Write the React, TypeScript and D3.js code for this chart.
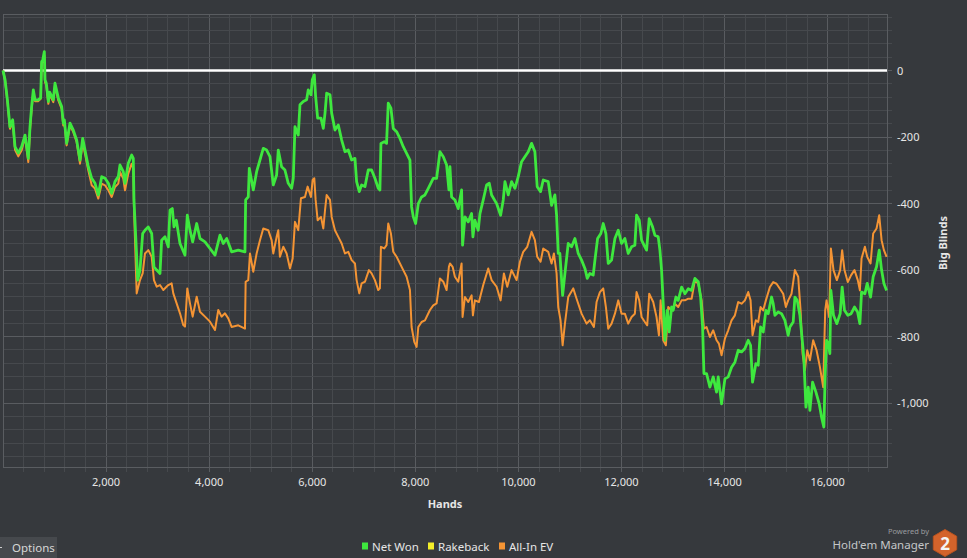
import { useEffect } from 'react';
import * as d3 from 'd3';

// Hold'em Manager style "won over hands" graph

const W = 967;
const H = 558;
const plot = { left: 3, right: 887, top: 14, bottom: 467 };

// [hand number, big blinds]
const netWon: [number, number][] = [
  [0, 0], [40, -28], [85, -88], [135, -169], [188, -148], [233, -229], [297, -248], [362, -229], [427, -194],
  [491, -264], [524, -169], [556, -108], [588, -58], [621, -88], [685, -88], [731, -82], [750, 27], [770, 30],
  [802, 57], [815, -28], [840, -38], [880, -93], [905, -65], [976, -88], [1009, -38], [1074, -83], [1138, -108],
  [1170, -158], [1190, -148], [1235, -219], [1300, -158], [1364, -179], [1429, -209], [1494, -269], [1546, -204],
  [1591, -239], [1655, -289], [1721, -324], [1785, -339], [1849, -374], [1915, -319], [1979, -324], [2044, -339],
  [2109, -369], [2173, -334], [2237, -319], [2270, -284], [2334, -304], [2367, -339], [2431, -279], [2497, -254],
  [2528, -264], [2541, -389], [2594, -560], [2613, -630], [2658, -600], [2710, -490], [2755, -480], [2817, -470],
  [2885, -490], [2929, -590], [2982, -600], [3046, -610], [3078, -510], [3143, -500], [3207, -530], [3240, -420],
  [3285, -415], [3318, -470], [3363, -450], [3434, -520], [3531, -555], [3576, -435], [3628, -480], [3680, -515],
  [3758, -460], [3822, -505], [3919, -515], [4016, -535], [4113, -555], [4210, -495], [4274, -520], [4340, -505],
  [4390, -525], [4436, -545], [4565, -540], [4695, -545], [4708, -389], [4759, -380], [4779, -294], [4856, -359],
  [4921, -304], [4986, -269], [5050, -234], [5115, -239], [5180, -259], [5244, -344], [5309, -314], [5341, -239],
  [5406, -289], [5470, -299], [5535, -339], [5600, -354], [5632, -324], [5665, -169], [5729, -194], [5762, -103],
  [5826, -93], [5891, -88], [5923, -58], [5975, -73], [6001, -28], [6040, -13], [6066, -78], [6105, -143],
  [6170, -143], [6215, -174], [6248, -128], [6280, -68], [6345, -73], [6377, -128], [6441, -179], [6506, -164],
  [6571, -209], [6635, -244], [6700, -239], [6765, -269], [6829, -264], [6861, -334], [6913, -364], [6958, -344],
  [7023, -349], [7087, -299], [7152, -299], [7216, -324], [7281, -354], [7313, -359], [7333, -219], [7397, -214],
  [7442, -219], [7475, -98], [7527, -113], [7572, -174], [7637, -184], [7702, -204], [7766, -229], [7831, -249],
  [7896, -269], [7928, -410], [7961, -440], [8006, -460], [8058, -400], [8122, -380], [8187, -374], [8252, -354],
  [8348, -324], [8413, -324], [8478, -244], [8543, -259], [8607, -284], [8652, -359], [8672, -289], [8704, -380],
  [8768, -389], [8833, -415], [8898, -359], [8917, -525], [8963, -440], [9027, -455], [9092, -430], [9118, -500],
  [9156, -450], [9221, -480], [9254, -430], [9318, -389], [9383, -344], [9435, -339], [9480, -374], [9577, -400],
  [9655, -435], [9706, -389], [9739, -334], [9803, -374], [9868, -334], [9933, -354], [9997, -319], [10062, -274],
  [10126, -259], [10191, -244], [10256, -219], [10320, -244], [10365, -349], [10430, -364], [10482, -329],
  [10579, -334], [10644, -405], [10708, -374], [10741, -435], [10773, -550], [10805, -550], [10858, -676],
  [10903, -610], [10967, -520], [11032, -530], [11097, -505], [11161, -550], [11226, -570], [11291, -595],
  [11336, -625], [11387, -610], [11452, -615], [11485, -570], [11537, -505], [11600, -490], [11646, -460],
  [11698, -490], [11743, -580], [11808, -570], [11873, -505], [11937, -480], [12002, -520], [12066, -505],
  [12131, -550], [12196, -530], [12260, -525], [12293, -435], [12345, -450], [12390, -510], [12454, -530],
  [12487, -540], [12538, -445], [12603, -470], [12648, -495], [12713, -500], [12746, -540], [12778, -600],
  [12810, -700], [12843, -811], [12870, -760], [12888, -721], [12926, -786], [12972, -711], [13004, -721],
  [13056, -681], [13101, -691], [13167, -651], [13231, -671], [13296, -656], [13361, -661], [13425, -625],
  [13490, -635], [13536, -681], [13574, -771], [13600, -911], [13651, -911], [13716, -952], [13780, -921],
  [13845, -967], [13877, -921], [13942, -1002], [14007, -927], [14071, -921], [14136, -892], [14201, -877],
  [14265, -841], [14330, -846], [14395, -836], [14459, -811], [14505, -826], [14543, -937], [14608, -881],
  [14653, -886], [14699, -771], [14750, -786], [14802, -721], [14847, -731], [14912, -681], [14944, -701],
  [14977, -736], [15041, -726], [15106, -731], [15171, -751], [15235, -796], [15268, -771], [15332, -756],
  [15365, -681], [15410, -691], [15462, -736], [15514, -821], [15539, -866], [15579, -1012], [15624, -952],
  [15656, -1022], [15708, -937], [15773, -967], [15837, -1002], [15882, -1042], [15927, -1072], [15953, -911],
  [15979, -811], [16011, -821], [16043, -851], [16063, -661], [16114, -736], [16179, -761], [16243, -731],
  [16282, -651], [16327, -721], [16391, -736], [16456, -731], [16521, -711], [16581, -726], [16626, -761],
  [16658, -666], [16723, -671], [16768, -640], [16833, -681], [16884, -620], [16949, -590], [17001, -540],
  [17047, -600], [17092, -640], [17144, -661],
];

const allInEv: [number, number][] = [
  [0, 0], [40, -30], [85, -92], [135, -175], [188, -155], [233, -238], [297, -258], [362, -240], [427, -200],
  [491, -275], [524, -180], [556, -115], [588, -65], [621, -92], [685, -92], [731, -85], [750, 22], [770, 25],
  [802, 45], [815, -35], [840, -45], [880, -100], [905, -72], [976, -95], [1009, -45], [1074, -90], [1138, -115],
  [1170, -165], [1190, -155], [1235, -225], [1300, -165], [1364, -185], [1429, -215], [1494, -280], [1546, -215],
  [1591, -250], [1655, -300], [1721, -345], [1785, -355], [1849, -385], [1915, -340], [1979, -345], [2044, -360],
  [2109, -380], [2173, -350], [2237, -340], [2270, -305], [2334, -325], [2367, -360], [2431, -310], [2497, -280],
  [2528, -295], [2541, -410], [2594, -670], [2658, -630], [2710, -610], [2755, -550], [2820, -540], [2885, -560],
  [2929, -630], [2982, -650], [3046, -645], [3110, -660], [3207, -645], [3272, -640], [3304, -670], [3369, -700],
  [3434, -730], [3497, -765], [3531, -770], [3576, -655], [3628, -700], [3680, -740], [3758, -680], [3822, -725],
  [3919, -740], [4016, -755], [4113, -780], [4177, -720], [4240, -740], [4307, -730], [4371, -745], [4436, -771],
  [4565, -766], [4695, -776], [4708, -635], [4759, -630], [4792, -550], [4856, -605], [4921, -550], [4986, -510],
  [5050, -475], [5147, -480], [5212, -510], [5244, -550], [5309, -500], [5341, -480], [5373, -560], [5438, -530],
  [5503, -550], [5568, -595], [5620, -565], [5665, -455], [5729, -480], [5781, -384], [5859, -380], [5911, -349],
  [5975, -380], [6008, -329], [6040, -324], [6066, -389], [6105, -450], [6170, -440], [6215, -475], [6248, -420],
  [6280, -374], [6345, -389], [6377, -440], [6441, -480], [6506, -500], [6571, -520], [6635, -550], [6700, -545],
  [6765, -570], [6829, -580], [6861, -630], [6913, -670], [6958, -640], [7023, -635], [7100, -600], [7152, -610],
  [7216, -630], [7281, -660], [7313, -655], [7333, -530], [7397, -535], [7442, -525], [7475, -460], [7527, -490],
  [7572, -545], [7637, -560], [7702, -580], [7766, -600], [7831, -620], [7896, -660], [7928, -771], [7980, -816],
  [8025, -831], [8058, -771], [8122, -756], [8187, -751], [8284, -720], [8348, -706], [8413, -700], [8478, -625],
  [8543, -635], [8607, -660], [8652, -590], [8672, -580], [8724, -590], [8768, -620], [8833, -635], [8898, -580],
  [8917, -741], [8963, -681], [9027, -696], [9092, -676], [9118, -736], [9156, -691], [9234, -696], [9318, -645],
  [9415, -595], [9480, -630], [9577, -650], [9655, -691], [9719, -610], [9784, -650], [9868, -600], [9965, -630],
  [10030, -575], [10094, -545], [10172, -530], [10256, -485], [10320, -510], [10365, -560], [10430, -575],
  [10482, -535], [10579, -545], [10644, -580], [10689, -550], [10741, -610], [10773, -711], [10818, -751],
  [10858, -826], [10903, -761], [10967, -681], [11064, -655], [11129, -686], [11226, -731], [11323, -761],
  [11387, -751], [11465, -771], [11517, -696], [11582, -666], [11646, -655], [11698, -711], [11743, -776],
  [11808, -761], [11873, -731], [11937, -691], [12002, -731], [12066, -731], [12131, -761], [12196, -741],
  [12260, -731], [12293, -666], [12345, -691], [12390, -741], [12454, -756], [12500, -766], [12538, -671],
  [12616, -696], [12680, -741], [12727, -796], [12760, -691], [12810, -811], [12862, -826], [12907, -711],
  [12972, -721], [13037, -701], [13101, -711], [13167, -691], [13231, -691], [13296, -686], [13361, -686],
  [13425, -630], [13490, -641], [13555, -691], [13600, -776], [13651, -771], [13716, -801], [13780, -781],
  [13845, -811], [13890, -821], [13942, -856], [14007, -806], [14071, -781], [14136, -751], [14201, -736],
  [14265, -696], [14330, -701], [14395, -691], [14459, -666], [14505, -691], [14543, -796], [14608, -751],
  [14653, -756], [14699, -711], [14750, -721], [14802, -691], [14880, -651], [14944, -636], [15009, -641],
  [15074, -656], [15138, -671], [15190, -711], [15235, -691], [15300, -671], [15365, -600], [15429, -620],
  [15475, -721], [15514, -851], [15559, -901], [15604, -841], [15656, -871], [15720, -811], [15785, -841],
  [15850, -891], [15914, -952], [15953, -721], [15979, -691], [16030, -741], [16063, -535], [16114, -600],
  [16179, -630], [16243, -600], [16282, -540], [16327, -600], [16391, -636], [16456, -615], [16521, -600],
  [16585, -630], [16626, -661], [16658, -565], [16723, -530], [16768, -560], [16833, -580], [16884, -490],
  [16949, -475], [17001, -435], [17047, -510], [17092, -540], [17144, -560],
];

const xTickValues = [2000, 4000, 6000, 8000, 10000, 12000, 14000, 16000];
const yTickValues = [0, -200, -400, -600, -800, -1000];
const legendItems = [
  { name: 'Net Won', color: '#3ee83e' },
  { name: 'Rakeback', color: '#f2ee2a' },
  { name: 'All-In EV', color: '#f49434' },
];

const BG = '#36393d';
const FONT = '"Noto Sans", "Open Sans", sans-serif';
const TEXT = '#e6e6e6';

const fmt = d3.formatLocale({ decimal: '.', thousands: ',', grouping: [3], currency: ['$', ''], minus: '-' }).format(',');

export default function App() {
  useEffect(() => {
    document.body.style.margin = '0';
    document.body.style.background = BG;
  }, []);

  const x = d3.scaleLinear().domain([0, 17152]).range([plot.left, plot.right]);
  const y = d3.scaleLinear().domain([-1192, 170]).range([plot.bottom, plot.top]);

  const line = d3.line<[number, number]>()
    .x(d => x(d[0]))
    .y(d => y(d[1]));

  // minor grid every 400 hands / 40 bb, major every 2000 hands / 200 bb
  const xGrid = d3.range(400, 17152, 400);
  const yGrid = d3.range(-1160, 170, 40);

  // logo hexagon
  const hexR = 13.5;
  const hex = d3.range(6).map(i => {
    const a = (Math.PI / 180) * (60 * i - 90);
    return [945 + hexR * Math.cos(a), 543 + hexR * Math.sin(a)];
  });

  const legendX = [362, 428, 499];

  return (
    <svg width={W} height={H} style={{ display: 'block', background: BG, fontFamily: FONT }}>
      <rect x={0} y={0} width={W} height={H} fill={BG} />

      {/* grid */}
      <g shapeRendering="crispEdges">
        {xGrid.map(v => (
          <line key={`x${v}`} x1={x(v)} x2={x(v)} y1={plot.top} y2={plot.bottom + 5}
            stroke={v % 2000 === 0 ? '#595c60' : '#46494d'} strokeWidth={1} />
        ))}
        {yGrid.map(v => (
          <line key={`y${v}`} x1={plot.left} x2={plot.right + 5} y1={y(v)} y2={y(v)}
            stroke={v % 200 === 0 ? '#595c60' : '#46494d'} strokeWidth={1} />
        ))}
        <rect x={plot.left} y={plot.top} width={plot.right - plot.left} height={plot.bottom - plot.top}
          fill="none" stroke="#5a5d61" strokeWidth={1} />
      </g>

      {/* zero line */}
      <line x1={plot.left} x2={plot.right} y1={y(0)} y2={y(0)} stroke="#ffffff" strokeWidth={2.5} />

      {/* series */}
      <path d={line(allInEv) ?? ''} fill="none" stroke="#f49434" strokeWidth={2} strokeLinejoin="round" />
      <path d={line(netWon) ?? ''} fill="none" stroke="#3ee83e" strokeWidth={2.8} strokeLinejoin="round" />

      {/* axes labels */}
      {xTickValues.map(v => (
        <text key={`xt${v}`} x={x(v)} y={486} textAnchor="middle" fontSize={11} fill={TEXT}>{fmt(v)}</text>
      ))}
      {yTickValues.map(v => (
        <text key={`yt${v}`} x={897} y={y(v) + 4} fontSize={11} fill={TEXT}>{fmt(v)}</text>
      ))}
      <text x={445} y={508} textAnchor="middle" fontSize={11} fontWeight="bold" fill={TEXT}>Hands</text>
      <text transform="translate(947,243) rotate(-90)" textAnchor="middle" fontSize={11} fontWeight="bold" fill={TEXT}>Big Blinds</text>

      {/* legend */}
      {legendItems.map((d, i) => (
        <g key={d.name} transform={`translate(${legendX[i]},546)`}>
          <rect x={0} y={-3.5} width={6} height={7} fill={d.color} />
          <text x={10} y={4.5} fontSize={11.5} fill={TEXT}>{d.name}</text>
        </g>
      ))}

      {/* options button */}
      <rect x={0} y={537} width={57} height={21} fill="#46494d" />
      <rect x={0} y={547} width={2} height={1} fill="#cfcfcf" />
      <text x={12} y={552} fontSize={11.5} fill="#d8d8d8">Options</text>

      {/* Powered by logo */}
      <text x={929} y={534} textAnchor="end" fontSize={7.5} fill="#9a9c9f">Powered by</text>
      <text x={929} y={549} textAnchor="end" fontSize={11.5} fill="#c4c6c8">Hold'em Manager</text>
      <polygon points={hex.map(p => p.join(',')).join(' ')} fill="#d3632b" stroke="#b9531f" strokeWidth={1} />
      <text x={945} y={549.5} textAnchor="middle" fontSize={17} fontWeight="bold" fill="#f4f4f4">2</text>
    </svg>
  );
}
